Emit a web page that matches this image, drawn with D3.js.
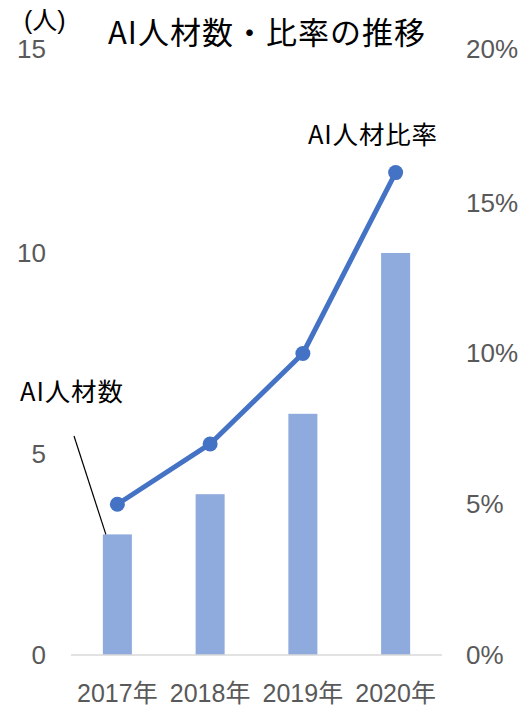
<!DOCTYPE html>
<html>
<head>
<meta charset="utf-8">
<script src="https://cdn.jsdelivr.net/npm/d3@7"></script>
<style>
  html, body { margin: 0; padding: 0; background: #fff; }
  svg { display: block; }
</style>
</head>
<body>
<script>
// Data
const years = ["2017年", "2018年", "2019年", "2020年"];
const aiCount = [3, 4, 6, 10];          // AI人材数 (人)
const aiRatio = [0.05, 0.07, 0.10, 0.16]; // AI人材比率
const leftTicks = [0, 5, 10, 15];
const rightTicks = [0, 0.05, 0.10, 0.15, 0.20];

const W = 522, H = 706;
const plot = { left: 71, right: 442, top: 52, bottom: 655 };

const svg = d3.select("body").append("svg")
  .attr("width", W).attr("height", H);

const x = d3.scaleBand()
  .domain(years)
  .range([plot.left, plot.right])
  .paddingInner(0.687)
  .paddingOuter(0.3435);

const yL = d3.scaleLinear().domain([0, 15]).range([plot.bottom, plot.top]);
const yR = d3.scaleLinear().domain([0, 0.20]).range([plot.bottom, plot.top]);

const numFont = "'Liberation Sans', Arial, 'Noto Sans CJK JP', sans-serif";
const jpFont = "'Noto Sans CJK JP', 'Noto Sans', sans-serif";
const gray = "#595959";

// Left axis (人)
const axL = svg.append("g")
  .attr("transform", `translate(${plot.left},0)`)
  .call(d3.axisLeft(yL).tickValues(leftTicks).tickSize(0).tickPadding(25).tickFormat(d3.format("d")));
axL.select(".domain").remove();
axL.selectAll("text")
  .attr("fill", gray).style("font-family", numFont).style("font-size", "26px");

// Right axis (%)
const axR = svg.append("g")
  .attr("transform", `translate(${plot.right},0)`)
  .call(d3.axisRight(yR).tickValues(rightTicks).tickSize(0).tickPadding(24).tickFormat(d3.format(".0%")));
axR.select(".domain").remove();
axR.selectAll("text")
  .attr("fill", gray).style("font-family", numFont).style("font-size", "26px");

// Top tick labels sit slightly higher
axL.selectAll(".tick").filter(d => d === 15).select("text").attr("dy", "0.22em");
axR.selectAll(".tick").filter(d => d === 0.20).select("text").attr("dy", "0.22em");

// Category axis
const axX = svg.append("g")
  .attr("transform", `translate(0,${plot.bottom})`)
  .call(d3.axisBottom(x).tickSize(0).tickPadding(29));
axX.select(".domain").remove();
axX.selectAll("text")
  .attr("fill", gray).style("font-family", numFont).style("font-size", "25px");

// Bars
svg.append("g").selectAll("rect")
  .data(years.map((y, i) => ({ y, v: aiCount[i] })))
  .join("rect")
  .attr("x", d => x(d.y))
  .attr("y", d => yL(d.v))
  .attr("width", x.bandwidth())
  .attr("height", d => yL(0) - yL(d.v))
  .attr("fill", "#8FAADC");

// Baseline
svg.append("line")
  .attr("x1", plot.left).attr("x2", plot.right)
  .attr("y1", yL(0)).attr("y2", yL(0))
  .attr("stroke", "#D9D9D9").attr("stroke-width", 1.5);

// Ratio line
const pts = years.map((y, i) => [x(y) + x.bandwidth() / 2, yR(aiRatio[i])]);
svg.append("path")
  .attr("d", d3.line()(pts))
  .attr("fill", "none")
  .attr("stroke", "#4472C4")
  .attr("stroke-width", 5)
  .attr("stroke-linejoin", "round");
svg.append("g").selectAll("circle")
  .data(pts)
  .join("circle")
  .attr("cx", d => d[0]).attr("cy", d => d[1])
  .attr("r", 7.5)
  .attr("fill", "#4472C4");

// Title
svg.append("text")
  .attr("x", 108).attr("y", 44)
  .attr("textLength", 317).attr("lengthAdjust", "spacing")
  .style("font-family", jpFont).style("font-size", "31px").attr("fill", "#000")
  .text("AI人材数・比率の推移");

// Unit label
svg.append("text")
  .attr("x", 24).attr("y", 29)
  .style("font-family", numFont).style("font-size", "25px").attr("fill", "#000")
  .text("(人)");

// Series labels
svg.append("text")
  .attr("x", 308).attr("y", 144)
  .attr("textLength", 129).attr("lengthAdjust", "spacing")
  .style("font-family", jpFont).style("font-size", "25.5px").attr("fill", "#000")
  .text("AI人材比率");

svg.append("text")
  .attr("x", 20).attr("y", 401)
  .attr("textLength", 103).attr("lengthAdjust", "spacing")
  .style("font-family", jpFont).style("font-size", "25.5px").attr("fill", "#000")
  .text("AI人材数");

// Leader line to the first bar
svg.append("line")
  .attr("x1", 74).attr("y1", 436)
  .attr("x2", x(years[0]) + 3).attr("y2", yL(aiCount[0]))
  .attr("stroke", "#000").attr("stroke-width", 1.2);
</script>
</body>
</html>
